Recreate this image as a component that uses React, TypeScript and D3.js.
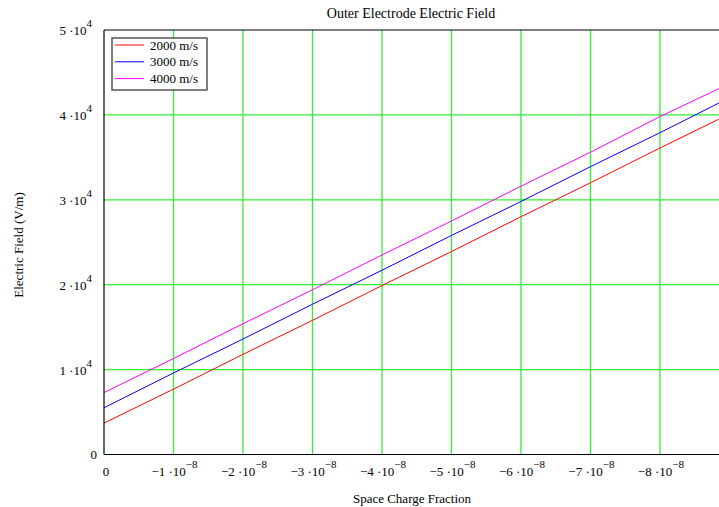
import React from "react";
import * as d3 from "d3";

const xValues = [0, -1e-8, -2e-8, -3e-8, -4e-8, -5e-8, -6e-8, -7e-8, -8e-8, -8.85e-8];
const red2000 = [3700, 7700, 11800, 15800, 19900, 23900, 28000, 32000, 36100, 39500];
const blue3000 = [5500, 9600, 13600, 17700, 21700, 25800, 29800, 33900, 37900, 41400];
const mag4000 = [7300, 11300, 15400, 19400, 23500, 27500, 31600, 35600, 39800, 43100];
const seriesNames = ["2000 m/s", "3000 m/s", "4000 m/s"];
const seriesColors = ["#ff0000", "#0000ff", "#ff00ff"];
const xTickMant = [0, -1, -2, -3, -4, -5, -6, -7, -8];
const yTickMant = [0, 1, 2, 3, 4, 5];

const W = 719, H = 507;
const L = 104, R = 719, T = 30, B = 454.5;
const FONT = "'Liberation Serif', 'Times New Roman', serif";

export default function App() {
  const x = d3.scaleLinear().domain([0, -8.85e-8]).range([L, R]);
  const y = d3.scaleLinear().domain([0, 5e4]).range([B, T]);
  const line = d3.line<[number, number]>().x(d => x(d[0])).y(d => y(d[1]));
  const all = [red2000, blue3000, mag4000];
  const grid = "#33ee33";
  return (
    <svg width={W} height={H} style={{ position: "absolute", left: 0, top: 0, background: "#fff" }} fontFamily={FONT}>
      <rect x={0} y={0} width={W} height={H} fill="#fff" />
      {xTickMant.slice(1).map(m => (
        <line key={"gx" + m} x1={x(m * 1e-8)} x2={x(m * 1e-8)} y1={T} y2={B} stroke={grid} strokeWidth={1.3} />
      ))}
      {yTickMant.slice(1, 5).map(m => (
        <line key={"gy" + m} x1={L} x2={R} y1={y(m * 1e4)} y2={y(m * 1e4)} stroke={grid} strokeWidth={1.3} />
      ))}
      <g clipPath="url(#clip)">
        <clipPath id="clip"><rect x={L} y={T} width={R - L} height={B - T} /></clipPath>
        {all.map((s, i) => (
          <path key={i} d={line(xValues.map((xv, j) => [xv, s[j]]))!} fill="none" stroke={seriesColors[i]} strokeWidth={1} />
        ))}
      </g>
      <line x1={L} x2={L} y1={T} y2={B} stroke="#000" strokeWidth={1.2} />
      <line x1={L} x2={R} y1={B} y2={B} stroke="#000" strokeWidth={1.2} />
      <line x1={L} x2={R} y1={T} y2={T} stroke="#000" strokeWidth={1.2} />
      <text x={411} y={18} textAnchor="middle" fontSize={14} fill="#000">Outer Electrode Electric Field</text>
      {yTickMant.map(m => (
        m === 0 ? (
          <text key={"yl" + m} x={97} y={y(0) + 4.5} textAnchor="end" fontSize={13}>0</text>
        ) : (
          <text key={"yl" + m} x={92} y={y(m * 1e4) + 5} textAnchor="end" fontSize={13}>
            {m + " \u00b710"}<tspan dy={-8} fontSize={11}>4</tspan>
          </text>
        )
      ))}
      {xTickMant.map(m => (
        m === 0 ? (
          <text key={"xl" + m} x={x(0) + 2} y={476} textAnchor="middle" fontSize={13}>0</text>
        ) : (
          <text key={"xl" + m} x={x(m * 1e-8) + 1} y={476} textAnchor="middle" fontSize={13}>
            {"\u2212" + Math.abs(m) + " \u00b710"}<tspan dy={-8} fontSize={11}>{"\u22128"}</tspan>
          </text>
        )
      ))}
      <text x={412} y={503} textAnchor="middle" fontSize={13}>Space Charge Fraction</text>
      <text transform="translate(23,245) rotate(-90)" textAnchor="middle" fontSize={13}>Electric Field (V/m)</text>
      <rect x={112} y={38} width={95} height={52} fill="#fff" stroke="#555" strokeWidth={1.5} />
      {seriesNames.map((n, i) => (
        <g key={n}>
          <line x1={115} x2={144} y1={45 + i * 16.8} y2={45 + i * 16.8} stroke={seriesColors[i]} strokeWidth={1} />
          <text x={150} y={49.5 + i * 16.8} fontSize={13}>{n}</text>
        </g>
      ))}
    </svg>
  );
}
